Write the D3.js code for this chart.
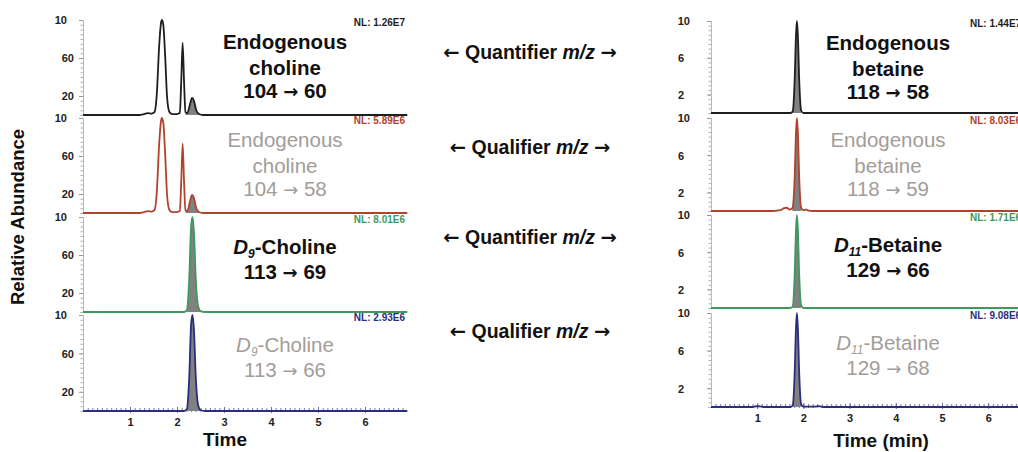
<!DOCTYPE html>
<html>
<head>
<meta charset="utf-8">
<script src="https://cdn.jsdelivr.net/npm/d3@7"></script>
<style>
  html, body { margin: 0; padding: 0; background: #fff; }
  svg { display: block; font-family: "Liberation Sans", Arial, sans-serif; }
  .arrow { font-family: "DejaVu Sans", sans-serif; }
</style>
</head>
<body>
<svg id="chart" width="1018" height="452"></svg>
<script>
// ---- Data: chromatogram traces as [time (min), relative abundance %] ----
const cholineQuant = [[0,0],[1.2,0],[1.3,1],[1.38,2],[1.46,1.5],[1.52,3],[1.57,22],[1.62,72],[1.66,97],[1.68,100],[1.71,94],[1.75,60],[1.79,18],[1.84,3],[1.9,1],[2.0,1],[2.06,2],[2.09,35],[2.12,76],[2.15,35],[2.18,3],[2.22,2],[2.27,10],[2.32,18],[2.36,15],[2.41,5],[2.47,1],[2.55,0],[6.9,0]];
const cholineQual  = [[0,0],[1.2,0],[1.3,1],[1.38,2],[1.46,1.5],[1.52,3],[1.57,22],[1.62,72],[1.66,97],[1.68,100],[1.71,94],[1.75,60],[1.79,18],[1.84,3],[1.9,1],[2.0,1],[2.06,2],[2.09,33],[2.12,73],[2.15,33],[2.18,3],[2.22,2],[2.27,11],[2.32,19],[2.36,16],[2.41,5],[2.47,1],[2.55,0],[6.9,0]];
const d9CholineQuant = [[0,0],[2.15,0],[2.21,2],[2.26,35],[2.3,90],[2.33,100],[2.36,85],[2.4,35],[2.45,6],[2.5,1],[2.6,0],[6.9,0]];
const d9CholineQual  = [[0,0],[2.15,0],[2.21,2],[2.26,35],[2.3,90],[2.33,100],[2.36,85],[2.4,35],[2.45,6],[2.5,1],[2.6,0],[6.9,0]];

const betaineQuant = [[0,0],[1.72,0],[1.77,2],[1.81,35],[1.84,85],[1.86,100],[1.88,85],[1.91,35],[1.95,3],[2.0,0],[6.9,0]];
const betaineQual  = [[0,0],[1.35,0],[1.45,0.6],[1.52,1.2],[1.58,3],[1.64,3.5],[1.7,1.5],[1.76,3],[1.81,35],[1.84,85],[1.86,100],[1.88,85],[1.91,35],[1.95,4],[2.0,0.8],[2.06,1.5],[2.12,0.3],[2.2,0],[6.9,0]];
const d11BetaineQuant = [[0,0],[1.72,0],[1.77,2],[1.81,35],[1.84,85],[1.86,100],[1.88,85],[1.91,35],[1.95,3],[2.0,0],[6.9,0]];
const d11BetaineQual  = [[0,0],[0.9,0],[0.98,0.8],[1.06,0.6],[1.15,0],[1.72,0],[1.77,2],[1.81,35],[1.84,85],[1.86,100],[1.88,85],[1.91,35],[1.95,3],[2.0,0.3],[2.25,0.3],[2.32,0.9],[2.4,0.2],[2.5,0],[6.9,0]];

// Normalisation levels shown at the top right of each trace
const nlLeft  = ["NL: 1.26E7", "NL: 5.89E6", "NL: 8.01E6", "NL: 2.93E6"];
const nlRight = ["NL: 1.44E7", "NL: 8.03E6", "NL: 1.71E6", "NL: 9.08E6"];

// Axis ticks
const yTickValues = [100, 60, 20];
const yTickLabelsLeft  = ["10", "60", "20"];
const yTickLabelsRight = ["10", "6", "2"];
const xTickValues = [1, 2, 3, 4, 5, 6];

// Integrated windows (shaded under the trace)
const cholineWindow = [2.18, 2.5];
const betaineWindow = [1.75, 1.98];

// Compound / transition labels: [text] or [italic, subscript, rest]; transitions as [from, to]
const leftLabels = [
  { name: [["Endogenous"], ["choline"]], mz: ["104", "60"], strong: true },
  { name: [["Endogenous"], ["choline"]], mz: ["104", "58"], strong: false },
  { name: [["D", "9", "-Choline"]], mz: ["113", "69"], strong: true },
  { name: [["D", "9", "-Choline"]], mz: ["113", "66"], strong: false }
];
const rightLabels = [
  { name: [["Endogenous"], ["betaine"]], mz: ["118", "58"], strong: true },
  { name: [["Endogenous"], ["betaine"]], mz: ["118", "59"], strong: false },
  { name: [["D", "11", "-Betaine"]], mz: ["129", "66"], strong: true },
  { name: [["D", "11", "-Betaine"]], mz: ["129", "68"], strong: false }
];
const middleLabels = ["Quantifier", "Qualifier", "Quantifier", "Qualifier"];

// ---- Styling ----
const traceColors = ["#1e1e1e", "#b0432c", "#3e9a5c", "#2b2e7e"];
const greyText = "#a39c99";
const fillGrey = "#6b6b6b";

const svg = d3.select("#chart");

// Panel geometry for the two stacks
const leftStack = {
  x0: 83, pxPerMin: 47, tops: [20, 118, 217, 315], bases: [115, 213, 312, 411],
  traces: [cholineQuant, cholineQual, d9CholineQuant, d9CholineQual],
  window: cholineWindow, nl: nlLeft, tickLabels: yTickLabelsLeft,
  labels: leftLabels, labelX: 285, nlX: 405, nlAnchor: "end",
  xMax: 6.85, topDx: -9, otherDx: -2
};
const rightStack = {
  x0: 711, pxPerMin: 46.2, tops: [21, 118, 215, 313], bases: [113, 211, 308, 407],
  traces: [betaineQuant, betaineQual, d11BetaineQuant, d11BetaineQual],
  window: betaineWindow, nl: nlRight, tickLabels: yTickLabelsRight,
  labels: rightLabels, labelX: 888, nlX: 970, nlAnchor: "start",
  xMax: 6.9, topDx: -14, otherDx: -20
};

// baselines of the compound label lines relative to panel top
const labelOffsets3 = [29, 55, 78];
const labelOffsets2 = [37, 62];

function drawStack(st) {
  const x = d3.scaleLinear().domain([0, st.xMax]).range([st.x0, st.x0 + st.xMax * st.pxPerMin]);

  st.traces.forEach((trace, i) => {
    const y = d3.scaleLinear().domain([0, 100]).range([st.bases[i], st.tops[i]]);
    const g = svg.append("g");

    // y axis with minor ticks
    const minor = d3.range(0, 101, 5);
    const yMinor = d3.axisLeft(y).tickValues(minor).tickSize(2.5).tickFormat("");
    const gm = g.append("g").attr("transform", `translate(${st.x0},0)`).call(yMinor);
    gm.selectAll("path").attr("stroke", "#b8b8b8").attr("stroke-width", 1);
    gm.selectAll("line").attr("stroke", "#b0b0b0");

    const yAxis = d3.axisLeft(y).tickValues(yTickValues).tickSize(4)
      .tickFormat((d, k) => st.tickLabels[k]);
    const ga = g.append("g").attr("transform", `translate(${st.x0},0)`).call(yAxis);
    ga.select(".domain").remove();
    ga.selectAll("line").attr("stroke", "#999");
    ga.selectAll("text")
      .attr("font-size", 11).attr("font-weight", "bold").attr("fill", "#222")
      .attr("font-family", "Liberation Sans, Arial, sans-serif")
      .attr("dx", (d, k) => k === 0 ? st.topDx : st.otherDx)
      .attr("dy", "0.35em");

    // shaded integration window
    const win = trace.filter(p => p[0] >= st.window[0] && p[0] <= st.window[1]);
    const area = d3.area().x(d => x(d[0])).y0(y(0)).y1(d => y(d[1])).curve(d3.curveMonotoneX);
    g.append("path").datum(win).attr("d", area).attr("fill", fillGrey).attr("opacity", 0.85);

    // bottom panel gets the time axis
    if (i === 3) {
      const xMinor = d3.axisBottom(x).tickValues(d3.range(0.1, st.xMax, 0.1)).tickSize(2).tickFormat("");
      const gx = g.append("g").attr("transform", `translate(0,${st.bases[i] - 1})`).call(xMinor);
      gx.select(".domain").remove();
      gx.selectAll("line").attr("stroke", "#7a7ca8").attr("y1", -2);
      const xAxis = d3.axisBottom(x).tickValues(xTickValues).tickSize(3).tickFormat(d3.format("d"));
      const gx2 = g.append("g").attr("transform", `translate(0,${st.bases[i] - 1})`).call(xAxis);
      gx2.select(".domain").remove();
      gx2.selectAll("line").attr("stroke", "#6a6c9a").attr("y1", -3);
      gx2.selectAll("text").attr("font-size", 11).attr("font-weight", "bold").attr("fill", "#222")
        .attr("font-family", "Liberation Sans, Arial, sans-serif").attr("dy", "0.9em");
    }

    // trace
    const line = d3.line().x(d => x(d[0])).y(d => y(d[1])).curve(d3.curveMonotoneX);
    g.append("path").datum(trace).attr("d", line)
      .attr("fill", "none").attr("stroke", traceColors[i]).attr("stroke-width", 1.8)
      .attr("stroke-linejoin", "round");

    // normalisation level label
    g.append("text").attr("x", st.nlX).attr("y", st.tops[i] + 6)
      .attr("text-anchor", st.nlAnchor).attr("font-size", 10).attr("font-weight", "bold")
      .attr("fill", traceColors[i]).text(st.nl[i]);

    // compound label
    const lab = st.labels[i];
    const offs = lab.name.length === 2 ? labelOffsets3 : labelOffsets2;
    const lines = lab.name.concat([null]);
    lines.forEach((parts, k) => {
      const t = g.append("text").attr("x", st.labelX).attr("y", st.tops[i] + offs[k])
        .attr("text-anchor", "middle").attr("font-size", 20.5)
        .attr("font-weight", lab.strong ? "bold" : "normal")
        .attr("fill", lab.strong ? "#111" : greyText);
      if (parts === null) {
        t.append("tspan").text(lab.mz[0] + " ");
        t.append("tspan").attr("class", "arrow").attr("font-size", 18).text("\u2192");
        t.append("tspan").text(" " + lab.mz[1]);
      } else if (parts.length === 3) {
        t.append("tspan").attr("font-style", "italic").text(parts[0]);
        t.append("tspan").attr("font-style", "italic").attr("font-size", 12).attr("dy", 4).text(parts[1]);
        t.append("tspan").attr("dy", -4).text(parts[2]);
      } else {
        t.text(parts[0]);
      }
    });
  });
}

drawStack(leftStack);
drawStack(rightStack);

// Quantifier / qualifier labels between the stacks
const midY = [59, 154, 244, 338];
middleLabels.forEach((m, i) => {
  const t = svg.append("text").attr("x", 530).attr("y", midY[i])
    .attr("text-anchor", "middle").attr("font-size", 19.5).attr("font-weight", "bold").attr("fill", "#111");
  t.append("tspan").attr("class", "arrow").text("\u2190");
  t.append("tspan").text(" " + m + " ");
  t.append("tspan").attr("font-style", "italic").text("m/z");
  t.append("tspan").text(" ");
  t.append("tspan").attr("class", "arrow").text("\u2192");
});

// Axis titles
svg.append("text").attr("transform", "translate(24,217) rotate(-90)")
  .attr("text-anchor", "middle").attr("font-size", 18.5).attr("font-weight", "bold").attr("fill", "#111")
  .text("Relative Abundance");
svg.append("text").attr("x", 225).attr("y", 446).attr("text-anchor", "middle")
  .attr("font-size", 19).attr("font-weight", "bold").attr("fill", "#111").text("Time");
svg.append("text").attr("x", 881).attr("y", 447).attr("text-anchor", "middle")
  .attr("font-size", 19).attr("font-weight", "bold").attr("fill", "#111").text("Time (min)");
</script>
</body>
</html>
